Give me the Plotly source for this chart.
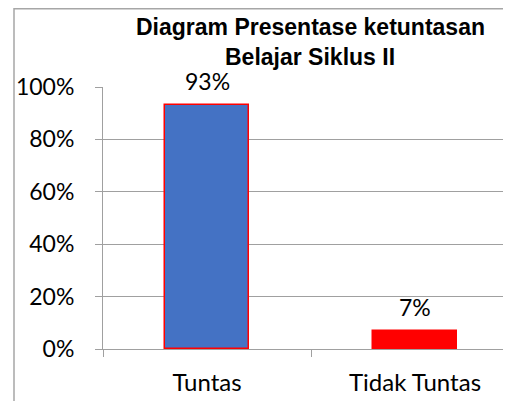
import plotly.graph_objects as go

categories = ["Tuntas", "Tidak Tuntas"]
values = [0.93, 0.07]
labels = ["93%", "7%"]
bar_colors = ["#4472C4", "#FF0000"]
line_colors = ["#FF0000", "#FF0000"]
title_lines = ["Diagram Presentase ketuntasan", "Belajar Siklus II"]

# page has an 8px body margin, so figure coordinates = page - 8;
# figure is shrunk so the page does not overflow (no scrollbars)
W, H = 495, 393
L, T = 95, 79
PH = 262
B = H - T - PH
PW = W - L

fig = go.Figure()
fig.add_trace(go.Bar(
    x=categories, y=values, width=0.4,
    marker=dict(color=bar_colors, line=dict(color=line_colors, width=1.5)),
    hoverinfo="skip",
))

for c, v, t in zip(categories, values, labels):
    fig.add_annotation(x=c, y=v, text=t, showarrow=False, yshift=24,
                       yanchor="middle",
                       font=dict(family="Lato", size=23, color="#000000"))

def py(page_y):
    return (T + PH - (page_y - 8)) / PH

def px(page_x):
    return (page_x - 8 - L) / PW

fig.add_annotation(xref="paper", yref="paper", x=px(310), y=py(27), yanchor="middle",
                   text="<b>" + title_lines[0] + "</b>", showarrow=False,
                   font=dict(family="Liberation Sans", size=23, color="#000"))
fig.add_annotation(xref="paper", yref="paper", x=px(310), y=py(57), yanchor="middle",
                   text="<b>" + title_lines[1] + "</b>", showarrow=False,
                   font=dict(family="Liberation Sans", size=23, color="#000"))

# outer chart border
fig.add_shape(type="rect", xref="paper", yref="paper",
              x0=px(14), x1=1.3, y0=-0.5, y1=(T + PH - 0.75) / PH,
              line=dict(color="#A6A6A6", width=1.5), layer="below")

fig.update_layout(
    width=W, height=H,
    margin=dict(l=L, r=0, t=T, b=B),
    plot_bgcolor="white", paper_bgcolor="white",
    showlegend=False, bargap=0,
    xaxis=dict(range=[-0.5, -0.5 + PW / 208], showgrid=False,
               showline=True, linecolor="#A0A0A0", linewidth=1,
               ticks="outside", tickson="boundaries", ticklen=7, tickcolor="#A0A0A0",
               tickfont=dict(family="Lato", size=24, color="#000"),
               ticklabelstandoff=12, fixedrange=True),
    yaxis=dict(range=[0, 1], tickvals=[0, 0.2, 0.4, 0.6, 0.8, 1.0],
               tickformat=".0%", showgrid=True, gridcolor="#A0A0A0", gridwidth=1,
               showline=True, linecolor="#A0A0A0", linewidth=1,
               ticks="outside", ticklen=7, tickcolor="#A0A0A0",
               tickfont=dict(family="Lato", size=23, color="#000"),
               ticklabelstandoff=16, zeroline=False, fixedrange=True),
)

fig.write_html("out.html")
